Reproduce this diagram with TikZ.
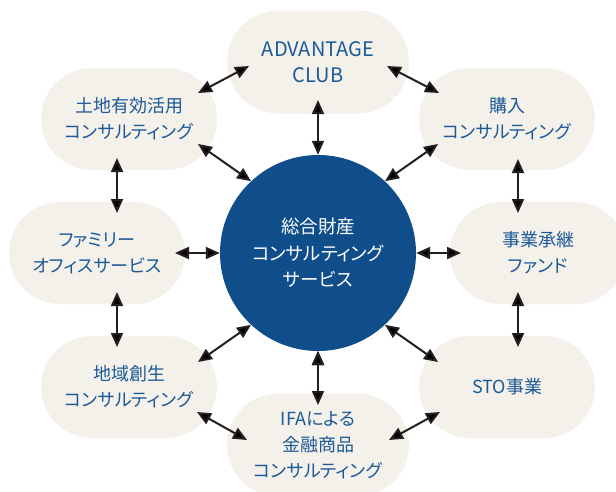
\documentclass[tikz,border=0pt]{standalone}
\usepackage{fontspec}
\setmainfont{Noto Sans CJK JP}[RawFeature=+palt]
\usetikzlibrary{shapes,arrows.meta,calc}
\definecolor{beige}{HTML}{F4F0EA}
\definecolor{txtblue}{HTML}{1C5A98}
\definecolor{hubblue}{HTML}{0F4D8B}
\definecolor{arrowblack}{HTML}{231F20}

\begin{document}
\begin{tikzpicture}[x=1pt,y=-1pt,
  pill/.style={rounded rectangle,fill=beige,minimum width=176pt,minimum height=102pt,inner sep=0pt,align=center,text=txtblue,font=\fontsize{18}{26}\selectfont},
  wide/.style={pill,minimum width=182pt,minimum height=103pt},
  hub/.style={circle,fill=hubblue,minimum size=196pt,inner sep=0pt,align=center,text=white,font=\fontsize{18.5}{26.5}\selectfont},
  link/.style={draw=arrowblack,line width=2pt,{Triangle[length=14pt,width=12pt]}-{Triangle[length=14pt,width=12pt]}}]
\clip (0,0) rectangle (616,491);
\node[hub] (H) at (318,253) {総合財産\\コンサルティング\\サービス};
\node[wide,font=\fontsize{20}{26}\selectfont] (T) at (318,62) {ADVANTAGE\\CLUB};
\node[pill] (L) at (129,119) {土地有効活用\\コンサルティング};
\node[pill] (P) at (507,119) {購入\\コンサルティング};
\node[pill] (F) at (97,253) {ファミリー\\オフィスサービス};
\node[pill] (S) at (538,253) {事業承継\\ファンド};
\node[pill] (R) at (129,387) {地域創生\\コンサルティング};
\node[pill] (O) at (507,387) {STO事業};
\node[wide] (I) at (318,445) {IFAによる\\金融商品\\コンサルティング};
\path[link]
  ($(T)+(-69,4)$) edge ($(L)+(69,-26)$)
  ($(T)+(69,4)$) edge ($(P)+(-68,-26)$)
  ($(T)+(0,38)$) edge (H.north)
  ($(L)+(69,25)$) edge (H.133)
  ($(P)+(-69,25)$) edge (H.47)
  ($(L)+(-12,39)$) edge ($(F)+(20,-40)$)
  ($(P)+(11,40)$) edge ($(S)+(-20,-40)$)
  ($(F)+(78,0)$) edge (H.west)
  ($(S)+(-77,0)$) edge (H.east)
  ($(F)+(20,39)$) edge ($(R)+(-12,-40)$)
  ($(S)+(-20,39)$) edge ($(O)+(11,-40)$)
  (H.227) edge ($(R)+(69,-25)$)
  (H.313) edge ($(O)+(-69,-25)$)
  ($(R)+(68,25)$) edge ($(I)+(-71,-5)$)
  ($(O)+(-67,25)$) edge ($(I)+(71,-5)$)
  (H.south) edge ($(I)+(0,-40)$)
;
\end{tikzpicture}
\end{document}
